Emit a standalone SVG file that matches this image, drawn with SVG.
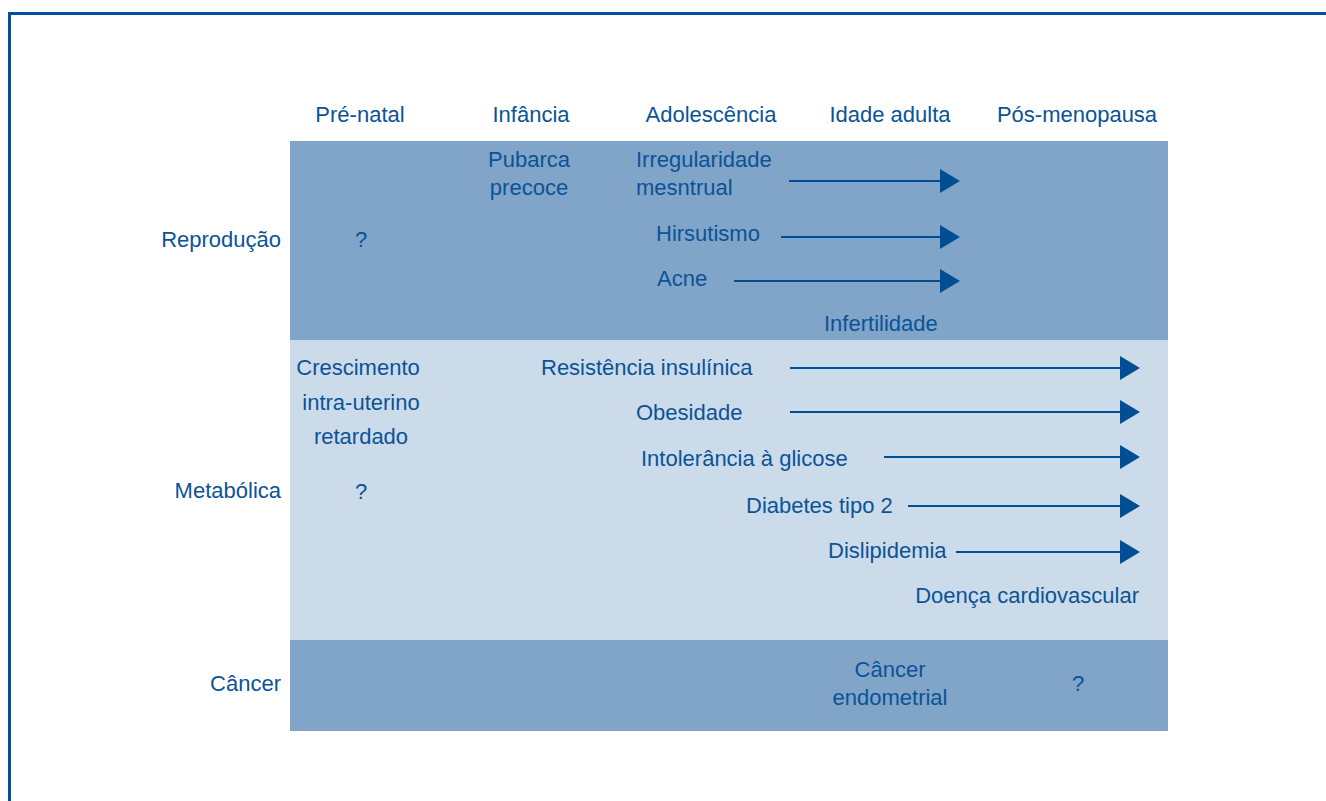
<svg xmlns="http://www.w3.org/2000/svg" width="1326" height="801" viewBox="0 0 1326 801">
<defs>
<style>
text{font-family:"Liberation Sans",Arial,sans-serif;font-size:22px;fill:#0b5396}
.m{text-anchor:middle}
.e{text-anchor:end}
.arr{stroke:#004f95;stroke-width:2.2;fill:none}
.head{fill:#004f95}
</style>
</defs>
<rect width="1326" height="801" fill="#ffffff"/>
<path d="M9.5,801 V13.5 H1326" fill="none" stroke="#0050a0" stroke-width="3"/>
<g id="bands">
<rect id="band-reproducao" x="290" y="141" width="878" height="199" fill="#80a5c9"/>
<rect id="band-metabolica" x="290" y="340" width="878" height="300" fill="#cbdbea"/>
<rect id="band-cancer" x="290" y="640" width="878" height="91" fill="#80a5c9"/>
</g>
<g id="headers">
<text class="m" x="360" y="122">Pré-natal</text>
<text class="m" x="531" y="122">Infância</text>
<text class="m" x="711" y="122">Adolescência</text>
<text class="m" x="890" y="122">Idade adulta</text>
<text class="m" x="1077" y="122">Pós-menopausa</text>
</g>
<g id="row-labels">
<text class="e" x="281" y="247">Reprodução</text>
<text class="e" x="281" y="498">Metabólica</text>
<text class="e" x="281" y="691">Câncer</text>
</g>
<g id="reproducao">
<text id="q1" class="m" x="361" y="247">?</text>
<text id="pubarca" class="m" x="529"><tspan x="529" y="167">Pubarca</tspan><tspan x="529" y="195">precoce</tspan></text>
<text id="irreg"><tspan x="636" y="167">Irregularidade</tspan><tspan x="636" y="195">mesntrual</tspan></text>
<text id="hirsutismo" x="656" y="241">Hirsutismo</text>
<text id="acne" x="657" y="286">Acne</text>
<text id="infert" x="824" y="331">Infertilidade</text>
</g>
<g id="metabolica">
<text id="crescimento" class="m"><tspan x="358" y="375">Crescimento</tspan><tspan x="361" y="410">intra-uterino</tspan><tspan x="361" y="444">retardado</tspan></text>
<text id="q2" class="m" x="361" y="499">?</text>
<text id="resist" x="541" y="375">Resistência insulínica</text>
<text id="obes" x="636" y="420">Obesidade</text>
<text id="intol" x="641" y="466">Intolerância à glicose</text>
<text id="diab" x="746" y="513">Diabetes tipo 2</text>
<text id="disl" x="828" y="558">Dislipidemia</text>
<text id="dcv" class="e" x="1139" y="603">Doença cardiovascular</text>
</g>
<g id="cancer">
<text id="endo" class="m"><tspan x="890" y="677">Câncer</tspan><tspan x="890" y="705">endometrial</tspan></text>
<text id="q3" class="m" x="1078" y="691">?</text>
</g>
<g id="connectors">
<line class="arr" x1="789" y1="181" x2="942" y2="181"/><polygon class="head" points="940,169 960,181 940,193"/>
<line class="arr" x1="781" y1="237" x2="942" y2="237"/><polygon class="head" points="940,225 960,237 940,249"/>
<line class="arr" x1="734" y1="281" x2="942" y2="281"/><polygon class="head" points="940,269 960,281 940,293"/>
<line class="arr" x1="790" y1="368" x2="1122" y2="368"/><polygon class="head" points="1120,356 1140,368 1120,380"/>
<line class="arr" x1="790" y1="412" x2="1122" y2="412"/><polygon class="head" points="1120,400 1140,412 1120,424"/>
<line class="arr" x1="884" y1="457" x2="1122" y2="457"/><polygon class="head" points="1120,445 1140,457 1120,469"/>
<line class="arr" x1="908" y1="506" x2="1122" y2="506"/><polygon class="head" points="1120,494 1140,506 1120,518"/>
<line class="arr" x1="956" y1="552" x2="1122" y2="552"/><polygon class="head" points="1120,540 1140,552 1120,564"/>
</g>
</svg>
